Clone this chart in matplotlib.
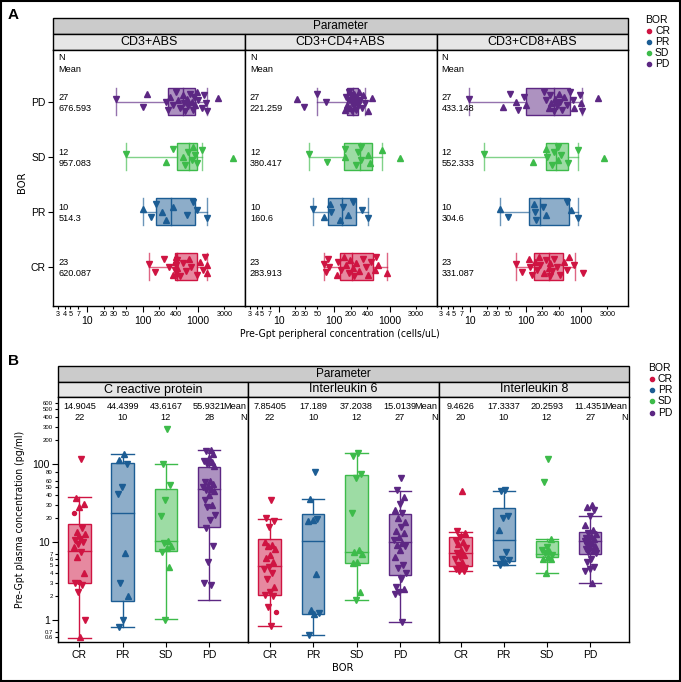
import matplotlib
matplotlib.use("Agg")
import matplotlib.pyplot as plt
from matplotlib.patches import Rectangle
from matplotlib.ticker import FixedLocator, FixedFormatter, NullLocator
from matplotlib.transforms import blended_transform_factory as blend

plt.rcParams["font.family"] = ["Liberation Sans", "DejaVu Sans"]

# ---------------- data ----------------
groups = ["CR", "PR", "SD", "PD"]
colors = ["#cf1442", "#1c5d94", "#3dbb4a", "#5c2783"]

# Panel A : Pre-Gpt peripheral concentration (cells/uL)
facetsA = ["CD3+ABS", "CD3+CD4+ABS", "CD3+CD8+ABS"]
nA = [[23, 10, 12, 27], [23, 10, 12, 27], [23, 10, 12, 27]]
meanA = [["620.087", "514.3", "957.083", "676.593"],
         ["283.913", "160.6", "380.417", "221.259"],
         ["331.087", "304.6", "552.333", "433.148"]]

# box stats (lo, q1, median, q3, hi) for CR, PR, SD, PD
cd3_box = [(133, 385, 420, 946, 1472), (104, 173, 331, 883, 1472),
           (51, 412, 688, 946, 1197), (33.8, 292, 530, 883, 1472)]
cd4_box = [(65, 130, 211, 500, 883), (41, 79, 141, 246, 417),
           (35, 150, 291, 480, 738), (49, 174, 217, 275, 363)]
cd8_box = [(66, 142, 261, 474, 771), (34, 115, 185, 600, 874),
           (17.4, 230, 359, 584, 874), (9.6, 100, 321, 644, 1047)]

cd3_CR = [133, 168, 244, 304, 349, 380, 390, 400, 405, 410, 415, 420, 470, 540, 600, 680, 760, 946, 1086, 1247, 1337, 1433, 1472]
cd3_CR_m = "vvvv^^v^v^v^vvv^vv^vv^^"
cd3_PR = [104, 140, 175, 228, 262, 359, 625, 822, 946, 1472]
cd3_PR_m = "^vv^^^vvvv"
cd3_SD = [51, 261, 359, 529, 582, 669, 769, 822, 883, 946, 1164, 4325]
cd3_SD_m = "v^v^vvv^vvv^"
cd3_PD = [33.8, 104, 119, 261, 292, 313, 359, 396, 442, 473, 529, 559, 591, 625, 669, 717, 769, 813, 847, 883, 946, 1014, 1164, 1283, 1393, 1472, 2323]
cd3_PD_m = "vv^vv^vv^v^vv^vv^vv^^vvvvv^"

cd4_CR = [65, 72, 79, 82, 113, 120, 134, 150, 165, 182, 197, 217, 233, 250, 287, 330, 379, 406, 467, 536, 574, 615, 883]
cd4_CR_m = "vvvv^vv^^v^^v^^vv^v^v^^"
cd4_PR = [41, 66, 86, 88, 130, 145, 177, 217, 316, 417]
cd4_PR_m = "v^^v^v^vvv"
cd4_SD = [35, 74, 155, 160, 250, 268, 300, 310, 406, 450, 738, 1560]
cd4_SD_m = "vvv^vvvv^^^^"
cd4_PD = [21.4, 28.3, 49, 70, 154, 165, 174, 182, 189, 197, 203, 208, 214, 220, 227, 233, 239, 250, 260, 268, 279, 299, 316, 334, 360, 406, 480]
cd4_PD_m = "^vvv^v^vv^vvv^v^vv^v^vv^v^^"

cd8_CR = [66, 86, 114, 122, 130, 150, 160, 172, 185, 212, 237, 261, 272, 280, 300, 321, 370, 424, 488, 560, 600, 760, 1091]
cd8_CR_m = "vv^vv^v^v^v^v^vvvv^v^vv"
cd8_PR = [34, 48, 140, 145, 156, 206, 237, 560, 662, 874]
cd8_PR_m = "^v^vvv^v^v"
cd8_SD = [17.4, 136, 230, 245, 300, 320, 380, 390, 430, 584, 874, 2578]
cd8_SD_m = "v^^vvv^vvvv^"
cd8_PD = [9.6, 39, 53, 67, 72, 95, 100, 212, 237, 261, 280, 288, 321, 345, 370, 396, 424, 455, 488, 560, 644, 719, 740, 949, 1003, 1047, 2009]
cd8_PD_m = "v^v^vv^vv^v^v^v^vv^vvv^v^v^"

# Panel B : Pre-Gpt plasma concentration (pg/ml)
facetsB = ["C reactive protein", "Interleukin 6", "Interleukin 8"]
nB = [[22, 10, 12, 28], [22, 10, 12, 27], [20, 10, 12, 27]]
meanB = [["14.9045", "44.4399", "43.6167", "55.9321"],
         ["7.85405", "17.189", "37.2038", "15.0139"],
         ["9.4626", "17.3337", "20.2593", "11.4351"]]

crp_box = [(0.59, 2.95, 7.7, 17.2, 37.7), (0.82, 1.75, 23.8, 104, 133),
           (1.02, 7.7, 10.3, 47.8, 100.5), (1.8, 15.7, 47.8, 92, 150)]
il6_box = [(0.84, 2.09, 4.9, 10.9, 19.5), (0.65, 1.19, 10.4, 23.1, 35.6),
           (1.8, 5.3, 7.4, 71.6, 137), (0.95, 3.73, 10.1, 22.6, 45.5)]
il8_box = [(4.2, 4.9, 7.2, 11.5, 13.6), (5.1, 5.7, 10.6, 27, 45.5),
           (3.96, 6.35, 6.95, 10.4, 10.9), (2.95, 6.95, 10.3, 13.6, 21.5)]

crp_CR = [116, 37, 31, 28, 23.8, 15, 13.5, 12.5, 11, 10.5, 10, 9.5, 8.5, 7.5, 6.5, 4.0, 3.1, 3.0, 2.8, 2.3, 1.0, 0.6]
crp_CR_m = "v^^^ov^^vvvv^v^^ovvvv^"
crp_PR = [133, 112, 100, 51, 41, 7.2, 3.0, 2.0, 1.0, 0.82]
crp_PR_m = "^^vvv^v^vv"
crp_SD = [280, 100, 53, 34.5, 21.5, 10.3, 9.6, 9, 8.3, 7.5, 4.8, 1.0]
crp_SD_m = "vvvvv^v^^v^v"
crp_PD = [150, 145, 135, 120, 110, 105, 100, 95, 60, 58, 55, 52, 50, 48, 47, 45, 40, 35, 30, 28, 22, 19, 15, 9, 5.5, 3, 2.8, 1.8]
crp_PD_m = "^v^^v^v^^v^^v^v^^v^vvvvvvvv"

il6_CR = [34.5, 20, 18.5, 15.7, 10, 9.2, 9, 8.2, 6.8, 6.2, 5.5, 4.8, 4.5, 4.0, 3.4, 2.67, 2.3, 2.1, 2.0, 1.48, 1.26, 0.84]
il6_CR_m = "vvvv^^^^^^^vvvv^vvvvov"
il6_PR = [78, 35.6, 19.5, 19, 18.5, 3.9, 1.36, 1.24, 1.2, 0.65]
il6_PR_m = "v^v^^^^v^v"
il6_SD = [140, 126, 74, 67, 23.8, 7.9, 7.4, 7.0, 5.5, 5.3, 2.3, 1.8]
il6_SD_m = "vvvvv^^^^^^v"
il6_PD = [65.5, 46, 38, 31, 26, 23.8, 20.5, 18, 15.7, 14, 12.9, 11.7, 10.6, 9.8, 9.2, 8.8, 7.9, 6.5, 5.1, 4.7, 4, 3.4, 2.67, 2.5, 2.3, 2.15, 0.95]
il6_PD_m = "vv^v^v^^v^^^v^^v^^vvvvv^vvv"

il8_CR = [45.5, 13.9, 13.2, 11.7, 10.4, 10, 9.5, 8.4, 8, 7.2, 6.9, 6.4, 6, 5.6, 5.1, 4.7, 4.6, 4.5, 4.3, 4.2]
il8_CR_m = "^v^vv^^v^v^vv^vv^vvv"
il8_PR = [46, 45.5, 21.5, 20.5, 14.1, 7.5, 6.0, 5.8, 5.6, 5.1]
il8_PR_m = "vvvv^vvv^v"
il8_SD = [115, 59, 11, 8.5, 8, 7.6, 7.2, 6.8, 6.4, 6.1, 6.0, 3.96]
il8_SD_m = "vv^vv^vv^^^^"
il8_PD = [29.8, 28, 26, 21.5, 16.5, 14.4, 13, 12.5, 12, 11.3, 11, 10.6, 10.2, 9.8, 9.2, 9, 8.5, 8.1, 7.7, 7.5, 7.2, 6, 5.6, 4.8, 4.5, 4.3, 2.95]
il8_PD_m = "^^vv^^v^^v^^v^v^^v^vvvvvvv^"

xA_major = [10, 100, 1000]
xA_minor = [3, 4, 5, 7, 20, 30, 50, 200, 400, 3000]
yB_major = [1, 10, 100]
yB_minor = [0.6, 0.7, 2, 3, 4, 5, 6, 7, 20, 30, 40, 50, 60, 80, 200, 300, 400, 500, 600]

pointsA = [[(cd3_CR, cd3_CR_m), (cd3_PR, cd3_PR_m), (cd3_SD, cd3_SD_m), (cd3_PD, cd3_PD_m)],
           [(cd4_CR, cd4_CR_m), (cd4_PR, cd4_PR_m), (cd4_SD, cd4_SD_m), (cd4_PD, cd4_PD_m)],
           [(cd8_CR, cd8_CR_m), (cd8_PR, cd8_PR_m), (cd8_SD, cd8_SD_m), (cd8_PD, cd8_PD_m)]]
boxesA = [cd3_box, cd4_box, cd8_box]
pointsB = [[(crp_CR, crp_CR_m), (crp_PR, crp_PR_m), (crp_SD, crp_SD_m), (crp_PD, crp_PD_m)],
           [(il6_CR, il6_CR_m), (il6_PR, il6_PR_m), (il6_SD, il6_SD_m), (il6_PD, il6_PD_m)],
           [(il8_CR, il8_CR_m), (il8_PR, il8_PR_m), (il8_SD, il8_SD_m), (il8_PD, il8_PD_m)]]
boxesB = [crp_box, il6_box, il8_box]

# ---------------- layout ----------------
W, H = 681, 682
fig = plt.figure(figsize=(W / 100, H / 100), dpi=100)

ov = fig.add_axes([0, 0, 1, 1])
ov.set_xlim(0, W)
ov.set_ylim(H, 0)
ov.axis("off")


def add_ax(x0, y0, x1, y1):
    return fig.add_axes([x0 / W, 1 - y1 / H, (x1 - x0) / W, (y1 - y0) / H])


def jit(n):
    return [(((k + 1) * 0.6180339887) % 1.0) - 0.5 for k in range(n)]


def draw_group(ax, pos, st, vals, marks, color, horizontal, width, amp, ms, whisk_alpha):
    lo, q1, med, q3, hi = st
    lw = 1.0
    if horizontal:
        ax.add_patch(Rectangle((q1, pos - width / 2), q3 - q1, width, facecolor=color,
                               alpha=0.5, edgecolor="none", zorder=2))
        ax.add_patch(Rectangle((q1, pos - width / 2), q3 - q1, width, fill=False,
                               edgecolor=color, lw=lw, zorder=3))
        ax.plot([med, med], [pos - width / 2, pos + width / 2], color=color, lw=lw, zorder=3)
        ax.plot([lo, q1], [pos, pos], color=color, lw=lw, zorder=3, alpha=whisk_alpha)
        ax.plot([q3, hi], [pos, pos], color=color, lw=lw, zorder=3, alpha=whisk_alpha)
        for v in (lo, hi):
            ax.plot([v, v], [pos - width / 2, pos + width / 2], color=color, lw=lw, zorder=3,
                    alpha=whisk_alpha)
    else:
        ax.add_patch(Rectangle((pos - width / 2, q1), width, q3 - q1, facecolor=color,
                               alpha=0.5, edgecolor="none", zorder=2))
        ax.add_patch(Rectangle((pos - width / 2, q1), width, q3 - q1, fill=False,
                               edgecolor=color, lw=lw, zorder=3))
        ax.plot([pos - width / 2, pos + width / 2], [med, med], color=color, lw=lw, zorder=3)
        ax.plot([pos, pos], [lo, q1], color=color, lw=lw, zorder=3, alpha=whisk_alpha)
        ax.plot([pos, pos], [q3, hi], color=color, lw=lw, zorder=3, alpha=whisk_alpha)
        for v in (lo, hi):
            ax.plot([pos - width / 2, pos + width / 2], [v, v], color=color, lw=lw, zorder=3,
                    alpha=whisk_alpha)
    offs = jit(len(vals))
    for v, m, o in zip(vals, marks, offs):
        size = ms * 0.6 if m == "o" else ms
        if horizontal:
            ax.plot(v, pos + o * 2 * amp, marker=m, ms=size, color=color, mec=color,
                    ls="none", zorder=4)
        else:
            ax.plot(pos + o * 2 * amp, v, marker=m, ms=size, color=color, mec=color,
                    ls="none", zorder=4)


def style_spines(ax):
    for s in ax.spines.values():
        s.set_linewidth(1.0)
        s.set_color("black")


narrow = dict(family=["DejaVu Sans"], fontstretch="condensed")
MS = 4.8
SF = 6.6

# ---------------- Panel A ----------------
ov.text(8, 15, "A", fontsize=11, fontweight="bold", ha="left", va="center")
ov.add_patch(Rectangle((53.3, 18), 628 - 53.3, 16, facecolor="#cbcbcb", edgecolor="black", lw=1.0))
ov.text((53.3 + 628) / 2, 26, "Parameter", fontsize=8.5, ha="center", va="center")
xA = [(53.3, 245), (245, 436.5), (436.5, 628)]
for fi, (x0, x1) in enumerate(xA):
    ov.add_patch(Rectangle((x0, 34), x1 - x0, 16, facecolor="#e6e6e6", edgecolor="black", lw=1.0))
    ov.text((x0 + x1) / 2, 42, facetsA[fi], fontsize=9, ha="center", va="center")
    ax = add_ax(x0, 50, x1, 306)
    ax.set_xscale("log")
    ax.set_xlim(2.47, 7030)
    ax.set_ylim(0.285, 4.94)
    for gi in range(4):
        vals, marks = pointsA[fi][gi]
        draw_group(ax, gi + 1, boxesA[fi][gi], vals, marks, colors[gi], True, 0.5, 0.19, MS, 0.65)
    ax.xaxis.set_major_locator(FixedLocator(xA_major))
    ax.xaxis.set_major_formatter(FixedFormatter([str(v) for v in xA_major]))
    ax.xaxis.set_minor_locator(FixedLocator(xA_minor))
    ax.xaxis.set_minor_formatter(FixedFormatter([str(v) for v in xA_minor]))
    ax.tick_params(axis="x", which="major", labelsize=7.5, length=4, width=0.8, pad=3)
    ax.tick_params(axis="x", which="minor", labelsize=5.2, length=2.5, width=0.8, pad=1.2)
    if fi == 0:
        ax.set_yticks([1, 2, 3, 4])
        ax.set_yticklabels(groups)
        ax.tick_params(axis="y", labelsize=7.5, length=3.5, width=0.8, pad=2)
    else:
        ax.yaxis.set_major_locator(NullLocator())
    ax.yaxis.set_minor_locator(NullLocator())
    style_spines(ax)
    tr = blend(ax.transAxes, ax.transData)
    ax.text(0.026, 4.80, "N", transform=tr, fontsize=SF, ha="left", va="center")
    ax.text(0.026, 4.59, "Mean", transform=tr, fontsize=SF, ha="left", va="center")
    for gi in range(4):
        ax.text(0.026, gi + 1 + 0.085, str(nA[fi][gi]), transform=tr, fontsize=SF,
                ha="left", va="center")
        ax.text(0.026, gi + 1 - 0.118, meanA[fi][gi], transform=tr, fontsize=SF,
                ha="left", va="center")

ov.text(22, 182, "BOR", rotation=90, fontsize=8, ha="center", va="center", **narrow)
ov.text(340, 334, "Pre-Gpt peripheral concentration (cells/uL)", fontsize=7.5,
        ha="center", va="center", **narrow)

ov.text(645, 20, "BOR", fontsize=7.5, ha="left", va="center")
for gi in range(4):
    ov.plot(649, 31 + 11 * gi, "o", ms=3, color=colors[gi])
    ov.text(655, 31 + 11 * gi, groups[gi], fontsize=7.5, ha="left", va="center")

# ---------------- Panel B ----------------
ov.text(8, 361, "B", fontsize=11, fontweight="bold", ha="left", va="center")
ov.add_patch(Rectangle((57.7, 366), 629 - 57.7, 16, facecolor="#cbcbcb", edgecolor="black", lw=1.0))
ov.text((57.7 + 629) / 2, 374, "Parameter", fontsize=8.5, ha="center", va="center")
xB = [(57.7, 248), (248, 439), (439, 629)]
for fi, (x0, x1) in enumerate(xB):
    ov.add_patch(Rectangle((x0, 382), x1 - x0, 15, facecolor="#e6e6e6", edgecolor="black", lw=1.0))
    ov.text((x0 + x1) / 2, 389.5, facetsB[fi], fontsize=9, ha="center", va="center")
    ax = add_ax(x0, 397, x1, 642)
    ax.set_yscale("log")
    ax.set_ylim(0.522, 722)
    ax.set_xlim(0.5, 4.9)
    for gi in range(4):
        vals, marks = pointsB[fi][gi]
        draw_group(ax, gi + 1, boxesB[fi][gi], vals, marks, colors[gi], False, 0.52, 0.14, MS, 1.0)
    ax.set_xticks([1, 2, 3, 4])
    ax.set_xticklabels(groups)
    ax.tick_params(axis="x", labelsize=7.5, length=3.5, width=0.8, pad=2.5)
    if fi == 0:
        ax.yaxis.set_major_locator(FixedLocator(yB_major))
        ax.yaxis.set_major_formatter(FixedFormatter([str(v) for v in yB_major]))
        ax.yaxis.set_minor_locator(FixedLocator(yB_minor))
        ax.yaxis.set_minor_formatter(FixedFormatter([("%g" % v) for v in yB_minor]))
        ax.tick_params(axis="y", which="major", labelsize=7.5, length=4, width=0.8, pad=1.5)
        ax.tick_params(axis="y", which="minor", labelsize=4.3, length=2.5, width=0.8, pad=1)
    else:
        ax.yaxis.set_major_locator(NullLocator())
        ax.yaxis.set_minor_locator(NullLocator())
    style_spines(ax)
    tr = blend(ax.transData, ax.transAxes)
    for gi in range(4):
        ax.text(gi + 1, 0.963, meanB[fi][gi], transform=tr, fontsize=SF, ha="center", va="center")
        ax.text(gi + 1, 0.918, str(nB[fi][gi]), transform=tr, fontsize=SF, ha="center", va="center")
    ax.text(0.993, 0.963, "Mean", transform=ax.transAxes, fontsize=SF, ha="right", va="center")
    ax.text(0.993, 0.918, "N", transform=ax.transAxes, fontsize=SF, ha="right", va="center")

ov.text(20, 519, "Pre-Gpt plasma concentration (pg/ml)", rotation=90, fontsize=7.5,
        ha="center", va="center", **narrow)
ov.text(343, 668, "BOR", fontsize=8, ha="center", va="center", **narrow)

ov.text(648, 368, "BOR", fontsize=7.5, ha="left", va="center")
for gi in range(4):
    ov.plot(652, 379 + 11.2 * gi, "o", ms=3, color=colors[gi])
    ov.text(658, 379 + 11.2 * gi, groups[gi], fontsize=7.5, ha="left", va="center")

ov.add_patch(Rectangle((1, 1), W - 2.5, H - 2.5, fill=False, edgecolor="black", lw=1.5))

fig.savefig("out.png", dpi=100)
